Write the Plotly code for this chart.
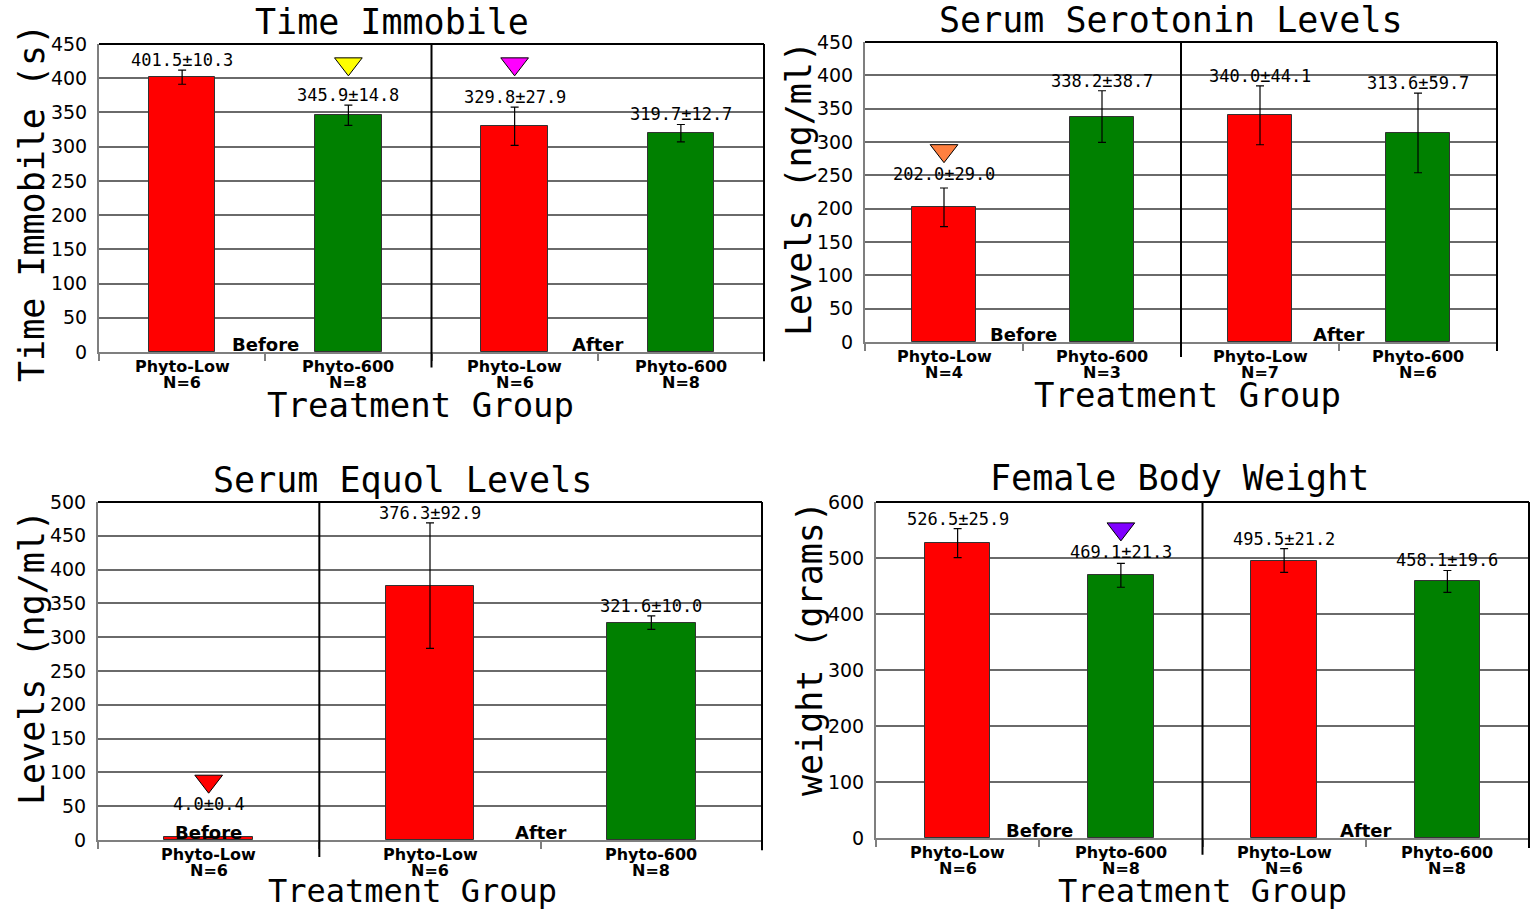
import plotly.graph_objects as go

W, H = 1530, 910

# ---- Time Immobile ----
ti_group = ["Before", "Before", "After", "After"]
ti_treat = ["Phyto-Low", "Phyto-600", "Phyto-Low", "Phyto-600"]
ti_n = [6, 8, 6, 8]
ti_mean = [401.5, 345.9, 329.8, 319.7]
ti_sem = [10.3, 14.8, 27.9, 12.7]
ti_sig_idx = [1, 2]
ti_sig_y = [421, 421]
ti_sig_color = ["#ffff00", "#ff00ff"]

# ---- Serum Serotonin Levels ----
se_group = ["Before", "Before", "After", "After"]
se_treat = ["Phyto-Low", "Phyto-600", "Phyto-Low", "Phyto-600"]
se_n = [4, 3, 7, 6]
se_mean = [202.0, 338.2, 340.0, 313.6]
se_sem = [29.0, 38.7, 44.1, 59.7]
se_sig_idx = [0]
se_sig_y = [287]
se_sig_color = ["#ff8040"]

# ---- Serum Equol Levels ----
eq_group = ["Before", "After", "After"]
eq_treat = ["Phyto-Low", "Phyto-Low", "Phyto-600"]
eq_n = [6, 6, 8]
eq_mean = [4.0, 376.3, 321.6]
eq_sem = [0.4, 92.9, 10.0]
eq_sig_idx = [0]
eq_sig_y = [87]
eq_sig_color = ["#ff0000"]

# ---- Female Body Weight ----
bw_group = ["Before", "Before", "After", "After"]
bw_treat = ["Phyto-Low", "Phyto-600", "Phyto-Low", "Phyto-600"]
bw_n = [6, 8, 6, 8]
bw_mean = [526.5, 469.1, 495.5, 458.1]
bw_sem = [25.9, 21.3, 21.2, 19.6]
bw_sig_idx = [1]
bw_sig_y = [552]
bw_sig_color = ["#8000ff"]

treat_color = {"Phyto-Low": "#ff0000", "Phyto-600": "#008000"}

MONO = "DejaVu Sans Mono"
SANS = "DejaVu Sans"


def px_x(v):
    return v / W


def px_y(v):
    return 1 - v / H


panels = [
    dict(group=ti_group, treat=ti_treat, n=ti_n, mean=ti_mean, sem=ti_sem,
         sig_idx=ti_sig_idx, sig_y=ti_sig_y, sig_color=ti_sig_color,
         under_marker=False, ymax=450, dtick=50,
         box=(99, 764, 44, 352), title="Time Immobile", ytitle="Time Immobile (s)",
         title_pos=(392, 22), ytitle_pos=(32, 203), xtitle_pos=(420, 405), xtitle_size=34),
    dict(group=se_group, treat=se_treat, n=se_n, mean=se_mean, sem=se_sem,
         sig_idx=se_sig_idx, sig_y=se_sig_y, sig_color=se_sig_color,
         under_marker=True, ymax=450, dtick=50,
         box=(865, 1497, 42, 342), title="Serum Serotonin Levels", ytitle="Levels (ng/ml)",
         title_pos=(1171, 20), ytitle_pos=(799, 189), xtitle_pos=(1187, 395), xtitle_size=34),
    dict(group=eq_group, treat=eq_treat, n=eq_n, mean=eq_mean, sem=eq_sem,
         sig_idx=eq_sig_idx, sig_y=eq_sig_y, sig_color=eq_sig_color,
         under_marker=True, ymax=500, dtick=50,
         box=(98, 762, 502, 840), title="Serum Equol Levels", ytitle="Levels (ng/ml)",
         title_pos=(402, 480), ytitle_pos=(32, 658), xtitle_pos=(412, 891), xtitle_size=32),
    dict(group=bw_group, treat=bw_treat, n=bw_n, mean=bw_mean, sem=bw_sem,
         sig_idx=bw_sig_idx, sig_y=bw_sig_y, sig_color=bw_sig_color,
         under_marker=True, ymax=600, dtick=100,
         box=(876, 1529, 502, 838), title="Female Body Weight", ytitle="weight (grams)",
         title_pos=(1179, 478), ytitle_pos=(810, 649), xtitle_pos=(1202, 891), xtitle_size=32),
]

fig = go.Figure()
shapes = []
annotations = []
MARKER_SIZE = 24
CAT_FONT = dict(family=SANS, size=16, color="#000000", weight="bold")
VALUE_FONT = dict(family=MONO, size=17, color="#000000")

for i, p in enumerate(panels, start=1):
    sfx = "" if i == 1 else str(i)
    xa, ya = "x" + sfx, "y" + sfx
    xref_dom, yref_dom = xa + " domain", ya + " domain"
    ncat = len(p["mean"])
    xs = list(range(ncat))
    left, right, top, bottom = p["box"]

    fig.add_trace(go.Bar(
        x=xs, y=p["mean"], width=0.4,
        marker=dict(color=[treat_color[t] for t in p["treat"]],
                    line=dict(color="#333333", width=1)),
        error_y=dict(type="data", array=p["sem"], visible=True,
                     color="#000000", thickness=1.2, width=4),
        xaxis=xa, yaxis=ya, hoverinfo="skip",
    ))
    fig.add_trace(go.Scatter(
        x=p["sig_idx"], y=p["sig_y"], mode="markers",
        marker=dict(symbol="triangle-down", size=MARKER_SIZE, color=p["sig_color"],
                    line=dict(color="#000000", width=1)),
        xaxis=xa, yaxis=ya, hoverinfo="skip", cliponaxis=False,
    ))

    fig.update_layout(**{
        ("xaxis" + sfx): dict(
            domain=[px_x(left), px_x(right)], range=[-0.5, ncat - 0.5],
            anchor=ya, tickvals=[k - 0.5 for k in range(ncat + 1)],
            ticktext=[""] * (ncat + 1), ticks="outside", ticklen=7,
            tickcolor="#7f7f7f", tickwidth=1.5,
            showline=True, linecolor="#7f7f7f", linewidth=2,
            showgrid=False, zeroline=False, fixedrange=True, automargin=False,
        ),
        ("yaxis" + sfx): dict(
            domain=[px_y(bottom), px_y(top)], range=[0, p["ymax"]], dtick=p["dtick"],
            anchor=xa, showgrid=True, gridcolor="#6a6a6a", gridwidth=2,
            showline=True, linecolor="#7f7f7f", linewidth=2,
            ticks="", ticklabelstandoff=6, zeroline=False, fixedrange=True,
            automargin=False,
            tickfont=dict(family=SANS, size=19, color="#000000"),
        ),
    })

    # plot frame: top and right edges
    shapes.append(dict(type="line", xref=xref_dom, yref=yref_dom, x0=0, x1=1, y0=1, y1=1,
                       line=dict(color="#000000", width=2)))
    shapes.append(dict(type="line", xref=xref_dom, yref=yref_dom, x0=1, x1=1, y0=-0.03, y1=1,
                       line=dict(color="#000000", width=2)))

    # divider between Before and After groups
    n_before = p["group"].count("Before")
    shapes.append(dict(type="line", xref=xa, yref=yref_dom, x0=n_before - 0.5, x1=n_before - 0.5,
                       y0=-0.05, y1=1, line=dict(color="#000000", width=2)))

    # category labels
    for k in xs:
        annotations.append(dict(x=k, y=0, xref=xa, yref=yref_dom, text=p["treat"][k],
                                showarrow=False, yanchor="middle", yshift=-14, font=CAT_FONT))
        annotations.append(dict(x=k, y=0, xref=xa, yref=yref_dom, text="N=%d" % p["n"][k],
                                showarrow=False, yanchor="middle", yshift=-30, font=CAT_FONT))

    # group names at the foot of each group
    for g in ["Before", "After"]:
        idx = [k for k in xs if p["group"][k] == g]
        annotations.append(dict(x=sum(idx) / len(idx), y=0, xref=xa, yref=ya, text=g,
                                showarrow=False, yanchor="bottom", yshift=-5,
                                font=dict(family=SANS, size=18, color="#000000", weight="bold")))

    # mean ± SEM labels
    for k in xs:
        txt = "%.1f±%.1f" % (p["mean"][k], p["sem"][k])
        if p["under_marker"] and k in p["sig_idx"]:
            yv = p["sig_y"][p["sig_idx"].index(k)]
            annotations.append(dict(x=k, y=yv, xref=xa, yref=ya, text=txt, showarrow=False,
                                    yanchor="top", yshift=-(MARKER_SIZE / 2 - 1),
                                    font=VALUE_FONT))
        else:
            annotations.append(dict(x=k, y=p["mean"][k] + p["sem"][k], xref=xa, yref=ya,
                                    text=txt, showarrow=False, yanchor="bottom", yshift=-2,
                                    font=VALUE_FONT))

    # titles
    tx, ty = p["title_pos"]
    annotations.append(dict(x=px_x(tx), y=px_y(ty), xref="paper", yref="paper", text=p["title"],
                            showarrow=False, xanchor="center", yanchor="middle",
                            font=dict(family=MONO, size=35, color="#000000")))
    yx, yy = p["ytitle_pos"]
    annotations.append(dict(x=px_x(yx), y=px_y(yy), xref="paper", yref="paper", text=p["ytitle"],
                            showarrow=False, xanchor="center", yanchor="middle", textangle=-90,
                            font=dict(family=MONO, size=35, color="#000000")))
    xx, xy = p["xtitle_pos"]
    annotations.append(dict(x=px_x(xx), y=px_y(xy), xref="paper", yref="paper",
                            text="Treatment Group", showarrow=False,
                            xanchor="center", yanchor="middle",
                            font=dict(family=MONO, size=p["xtitle_size"], color="#000000")))

fig.update_layout(
    width=W, height=H, margin=dict(l=0, r=0, t=0, b=0, autoexpand=False),
    paper_bgcolor="#ffffff", plot_bgcolor="#ffffff",
    showlegend=False, bargap=0, shapes=shapes, annotations=annotations,
)

fig.write_html("out.html")
